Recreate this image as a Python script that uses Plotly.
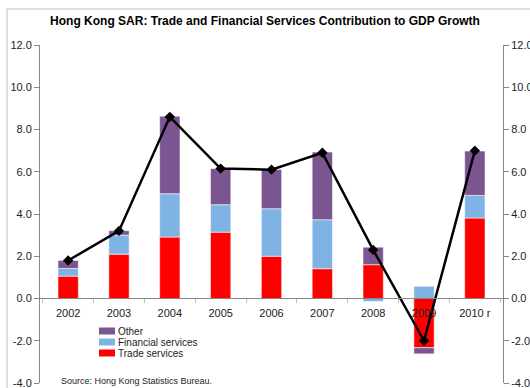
import plotly.graph_objects as go

years = ["2002", "2003", "2004", "2005", "2006", "2007", "2008", "2009", "2010 r"]
trade = [1.06, 2.10, 2.91, 3.14, 2.00, 1.41, 1.60, -2.33, 3.81]
financial = [0.36, 0.90, 2.05, 1.30, 2.25, 2.32, -0.14, 0.58, 1.07]
other = [0.38, 0.21, 3.67, 1.71, 1.86, 3.20, 0.83, -0.29, 2.10]
gdp_growth = [1.8, 3.2, 8.6, 6.15, 6.1, 6.9, 2.3, -2.0, 7.0]
y_ticks = [-4, -2, 0, 2, 4, 6, 8, 10, 12]

series_colors = {"Trade services": "#FF0000",
                 "Financial services": "#7EB3E4",
                 "Other": "#7A5590"}

W, H = 530, 388
L, R, T, B = 40, 27, 45, 5
pw, ph = W - L - R, H - T - B

def px_x(p):
    return (p - L) / pw

def px_y(p):
    return (H - B - p) / ph

FONT = "Liberation Sans, Arial"
bar_line = dict(color="rgba(255,255,255,0.55)", width=1)
fig = go.Figure()
for name, vals in [("Trade services", trade), ("Financial services", financial), ("Other", other)]:
    fig.add_bar(x=years, y=vals, name=name, showlegend=False,
                marker=dict(color=series_colors[name], line=bar_line))
fig.add_scatter(x=years, y=gdp_growth, mode="lines+markers", showlegend=False,
                line=dict(color="black", width=2.5),
                marker=dict(symbol="diamond", size=8, color="black"))
# second axis carries the mirrored tick labels on the right
fig.add_scatter(x=years, y=gdp_growth, yaxis="y2", mode="markers",
                marker=dict(opacity=0), showlegend=False, hoverinfo="skip")

tick_text = [f"{v:.1f}" for v in y_ticks]
axis_common = dict(range=[-4, 12], tickvals=y_ticks, ticktext=tick_text,
                   showgrid=False, zeroline=False, showline=True,
                   linecolor="#868686", linewidth=1, ticks="outside",
                   ticklen=5, tickcolor="#868686", ticklabeloverflow="allow",
                   tickfont=dict(family=FONT, size=11, color="#222"))

fig.update_layout(
    width=W, height=H,
    margin=dict(l=L, r=R, t=T, b=B, autoexpand=False),
    paper_bgcolor="white", plot_bgcolor="white",
    barmode="relative", bargap=0.6,
    title=dict(text="<b>Hong Kong SAR: Trade and Financial Services Contribution to GDP Growth</b>",
               x=0.5, xanchor="center", y=1 - 21 / H, yanchor="middle",
               font=dict(family=FONT, size=12, color="black")),
    xaxis=dict(type="category", anchor="free", position=px_y(298),
               showline=True, linecolor="#868686", linewidth=1,
               ticks="outside", tickson="boundaries", ticklen=4, tickcolor="#BFBFBF",
               ticklabelstandoff=5,
               showgrid=False, zeroline=False,
               tickfont=dict(family=FONT, size=11, color="#222")),
    yaxis=dict(side="left", **axis_common),
    yaxis2=dict(side="right", overlaying="y", matches="y", **axis_common),
    showlegend=False,
)

# compact legend: swatch + label per series, "Other" on top
legend_rows = ["Other", "Financial services", "Trade services"]
for i, name in enumerate(legend_rows):
    yc = 331 + i * 11
    fig.add_shape(type="rect", xref="paper", yref="paper",
                  x0=px_x(99), x1=px_x(115), y0=px_y(yc + 3.5), y1=px_y(yc - 3.5),
                  fillcolor=series_colors[name], line=dict(width=0))
    fig.add_annotation(text=name, xref="paper", yref="paper",
                       x=px_x(115.5), y=px_y(yc), xanchor="left", yanchor="middle",
                       showarrow=False, font=dict(family=FONT, size=10, color="#222"))

fig.add_annotation(text="Source: Hong Kong Statistics Bureau.", xref="paper", yref="paper",
                   x=px_x(59), y=px_y(381), xanchor="left", yanchor="middle",
                   showarrow=False,
                   font=dict(family=FONT, size=9, color="#222"))

# outer chart frame
fig.add_shape(type="rect", xref="paper", yref="paper",
              x0=px_x(7), x1=px_x(540), y0=px_y(395), y1=px_y(9),
              line=dict(color="#BFBFBF", width=1), layer="below")

fig.write_html("out.html")
